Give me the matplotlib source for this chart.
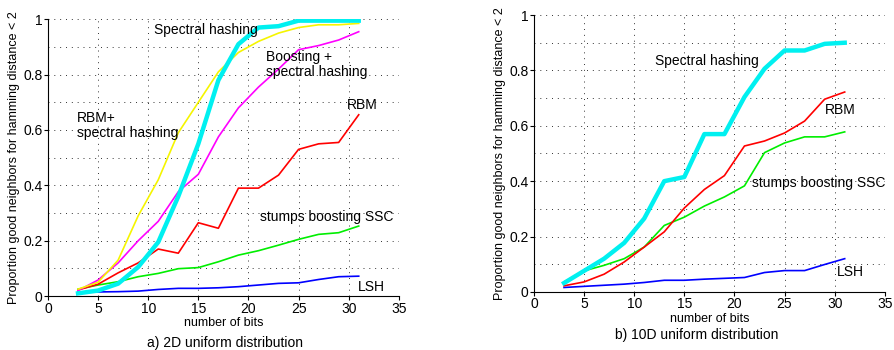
import matplotlib.pyplot as plt
from matplotlib.ticker import MultipleLocator

plt.rcParams['font.family'] = ['Liberation Sans', 'DejaVu Sans']

bits = [3, 5, 7, 9, 11, 13, 15, 17, 19, 21, 23, 25, 27, 29, 31]

# a) 2D uniform distribution
a_spectral = [0.01, 0.02, 0.045, 0.105, 0.195, 0.36, 0.55, 0.78, 0.91, 0.97, 0.975, 0.995, 0.995, 0.995, 0.995]
a_rbm_spectral = [0.025, 0.05, 0.13, 0.29, 0.42, 0.59, 0.70, 0.81, 0.88, 0.92, 0.95, 0.97, 0.98, 0.98, 0.985]
a_boost_spectral = [0.02, 0.058, 0.12, 0.20, 0.27, 0.377, 0.44, 0.575, 0.68, 0.755, 0.82, 0.89, 0.905, 0.925, 0.955]
a_rbm = [0.022, 0.043, 0.084, 0.12, 0.17, 0.155, 0.265, 0.245, 0.39, 0.39, 0.437, 0.53, 0.55, 0.555, 0.655]
a_ssc = [0.025, 0.04, 0.052, 0.07, 0.082, 0.099, 0.103, 0.124, 0.148, 0.164, 0.184, 0.205, 0.223, 0.229, 0.253]
a_lsh = [0.015, 0.015, 0.016, 0.018, 0.024, 0.028, 0.028, 0.03, 0.034, 0.04, 0.046, 0.048, 0.06, 0.07, 0.072]

# b) 10D uniform distribution
b_spectral = [0.032, 0.076, 0.12, 0.177, 0.265, 0.40, 0.415, 0.57, 0.57, 0.704, 0.806, 0.872, 0.872, 0.896, 0.90]
b_rbm = [0.022, 0.036, 0.064, 0.108, 0.162, 0.217, 0.303, 0.37, 0.42, 0.527, 0.545, 0.574, 0.617, 0.696, 0.722]
b_ssc = [0.036, 0.076, 0.096, 0.12, 0.162, 0.24, 0.27, 0.31, 0.343, 0.383, 0.503, 0.538, 0.56, 0.56, 0.578]
b_lsh = [0.016, 0.02, 0.024, 0.028, 0.034, 0.042, 0.042, 0.046, 0.049, 0.052, 0.07, 0.077, 0.077, 0.099, 0.12]

ylabel = "Proportion good neighbors for hamming distance < 2"
yticks = [0, 0.2, 0.4, 0.6, 0.8, 1]
yticklabels = ["0", "0.2", "0.4", "0.6", "0.8", "1"]


def style_axes(ax):
    ax.set_xlim(0, 35)
    ax.set_ylim(0, 1)
    ax.xaxis.set_major_locator(MultipleLocator(5))
    ax.set_yticks(yticks)
    ax.set_yticklabels(yticklabels)
    ax.yaxis.set_minor_locator(MultipleLocator(0.1))
    ax.grid(True, which='both', linestyle=(0, (1, 5)), color='#333333', linewidth=0.7)
    ax.spines['top'].set_visible(False)
    ax.spines['right'].set_visible(False)
    ax.tick_params(which='major', direction='out', length=3, labelsize=10, pad=1)
    ax.tick_params(which='minor', length=0)
    ax.set_ylabel(ylabel, fontsize=9, labelpad=2)
    ax.set_xlabel("number of bits", fontsize=9, labelpad=1)


fig = plt.figure(figsize=(8.95, 3.5), dpi=100)
ax1 = fig.add_axes([0.0536, 0.154, 0.392, 0.791])
ax2 = fig.add_axes([0.5966, 0.166, 0.392, 0.791])

ax1.plot(bits, a_lsh, color='#0000ff', lw=1.2)
ax1.plot(bits, a_ssc, color='#00ee00', lw=1.2)
ax1.plot(bits, a_rbm, color='#ff0000', lw=1.2)
ax1.plot(bits, a_boost_spectral, color='#ff00ff', lw=1.2)
ax1.plot(bits, a_rbm_spectral, color='#f5f500', lw=1.2)
ax1.plot(bits, a_spectral, color='#00f0f0', lw=3.2)
style_axes(ax1)

fs = 10
ax1.text(10.6, 0.96, "Spectral hashing", fontsize=fs, va='center')
ax1.text(21.8, 0.89, "Boosting +\nspectral hashing", fontsize=fs, va='top', linespacing=1.1)
ax1.text(2.9, 0.67, "RBM+\nspectral hashing", fontsize=fs, va='top', linespacing=1.1)
ax1.text(29.8, 0.69, "RBM", fontsize=fs, va='center')
ax1.text(21.2, 0.286, "stumps boosting SSC", fontsize=fs, va='center')
ax1.text(30.9, 0.032, "LSH", fontsize=fs, va='center')

ax2.plot(bits, b_lsh, color='#0000ff', lw=1.2)
ax2.plot(bits, b_ssc, color='#00ee00', lw=1.2)
ax2.plot(bits, b_rbm, color='#ff0000', lw=1.2)
ax2.plot(bits, b_spectral, color='#00f0f0', lw=3.2)
style_axes(ax2)

ax2.text(12.1, 0.834, "Spectral hashing", fontsize=fs, va='center')
ax2.text(29.0, 0.657, "RBM", fontsize=fs, va='center')
ax2.text(21.8, 0.394, "stumps boosting SSC", fontsize=fs, va='center')
ax2.text(30.2, 0.072, "LSH", fontsize=fs, va='center')

fig.text(225 / 895, 1 - 343 / 350, "a) 2D uniform distribution", fontsize=10, ha='center', va='center')
fig.text(697 / 895, 1 - 335 / 350, "b) 10D uniform distribution", fontsize=10, ha='center', va='center')

fig.savefig("out.png", dpi=100)
